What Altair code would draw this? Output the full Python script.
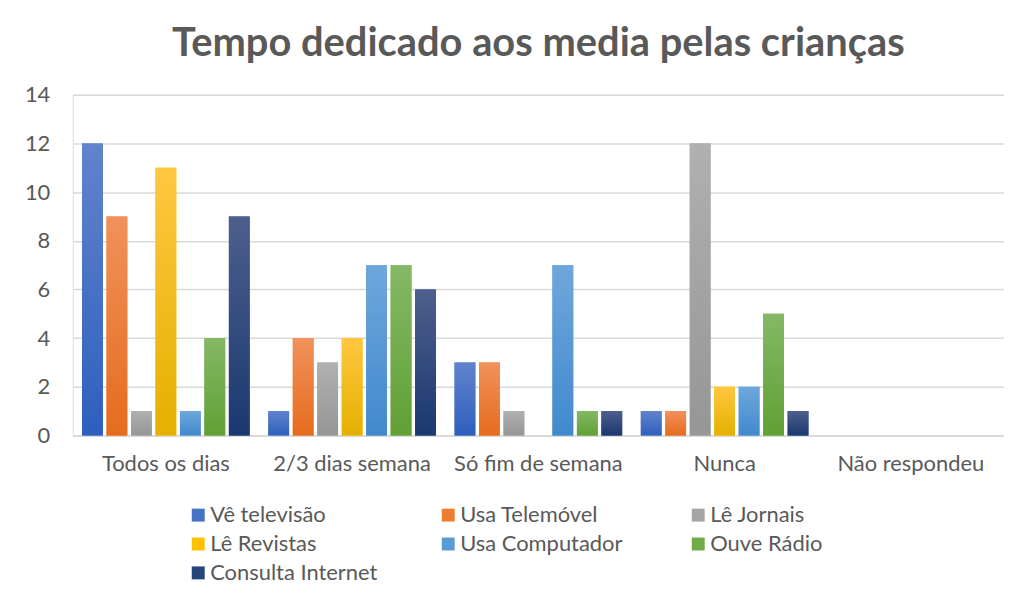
import altair as alt
import pandas as pd

categories = ["Todos os dias", "2/3 dias semana", "Só fim de semana", "Nunca", "Não respondeu"]
series = ["Vê televisão", "Usa Telemóvel", "Lê Jornais", "Lê Revistas",
          "Usa Computador", "Ouve Rádio", "Consulta Internet"]

tv = [12, 1, 3, 1, 0]
telemovel = [9, 4, 3, 1, 0]
jornais = [1, 3, 1, 12, 0]
revistas = [11, 4, 0, 2, 0]
computador = [1, 7, 7, 2, 0]
radio = [4, 7, 1, 5, 0]
internet = [9, 6, 1, 1, 0]

solid = ["#4472C4", "#ED7D31", "#A5A5A5", "#FFC000", "#5B9BD5", "#70AD47", "#264478"]
tops = ["#6283cd", "#f1915c", "#b0b0b0", "#ffc740", "#6fa7dc", "#85b866", "#4e5f8c"]
bottoms = ["#2e5fbd", "#e56c1d", "#969696", "#e5b000", "#4189cd", "#60a034", "#1a3870"]

values = [tv, telemovel, jornais, revistas, computador, radio, internet]
rows = []
for s, vals in zip(series, values):
    for c, v in zip(categories, vals):
        rows.append({"cat": c, "serie": s, "valor": v})
df = pd.DataFrame(rows)

FONT = "Lato"
GREY = "#595959"

x_enc = alt.X("cat:N", sort=categories, title=None,
              scale=alt.Scale(paddingInner=0.1, paddingOuter=0.05),
              axis=alt.Axis(labelAngle=0, labelFontSize=22, labelColor=GREY, labelFont=FONT,
                            labelPadding=18, labelLimit=300, ticks=False,
                            domainColor="#d9d9d9", domainWidth=1.5))
xo_enc = alt.XOffset("serie:N", sort=series, scale=alt.Scale(domain=series, paddingInner=0.15))
y_enc = alt.Y("valor:Q", title=None,
              scale=alt.Scale(domain=[0, 14]),
              axis=alt.Axis(values=list(range(0, 15, 2)), labelFontSize=22, labelColor=GREY,
                            labelFont=FONT, labelPadding=23, ticks=False, domain=False,
                            gridColor="#d9d9d9", gridWidth=1.5, minExtent=40, maxExtent=40))

base = alt.Chart(df).mark_bar().encode(
    x=x_enc, xOffset=xo_enc, y=y_enc,
    color=alt.Color("serie:N", sort=series,
                    scale=alt.Scale(domain=series, range=solid),
                    legend=alt.Legend(title=None, orient="none", legendX=115, legendY=411,
                                      direction="horizontal", columns=3, symbolType="square",
                                      symbolSize=169, symbolStrokeWidth=0, labelFontSize=22,
                                      labelFont=FONT, labelColor=GREY, labelOffset=1,
                                      labelLimit=300, columnPadding=60, rowPadding=7,
                                      gridAlign="all"))
)

layers = [base]
for s, t, b in zip(series, tops, bottoms):
    grad = alt.LinearGradient(gradient="linear", x1=0, y1=0, x2=0, y2=1,
                              stops=[alt.GradientStop(color=t, offset=0),
                                     alt.GradientStop(color=b, offset=1)])
    layers.append(
        alt.Chart(df).transform_filter(alt.datum.serie == s)
        .mark_bar(fill=grad).encode(x=x_enc, xOffset=xo_enc, y=y_enc)
    )

chart = alt.layer(*layers).properties(
    width=935, height=342,
    title=alt.TitleParams("Tempo dedicado aos media pelas crianças", fontSize=40, font=FONT,
                          fontWeight="bold", color=GREY, anchor="middle", offset=20),
    padding={"left": 16, "top": 15, "right": 0, "bottom": 0},
).configure_view(stroke=None).configure(background="white")

chart.save("out.html", embed_options={"renderer": "svg", "actions": False})
